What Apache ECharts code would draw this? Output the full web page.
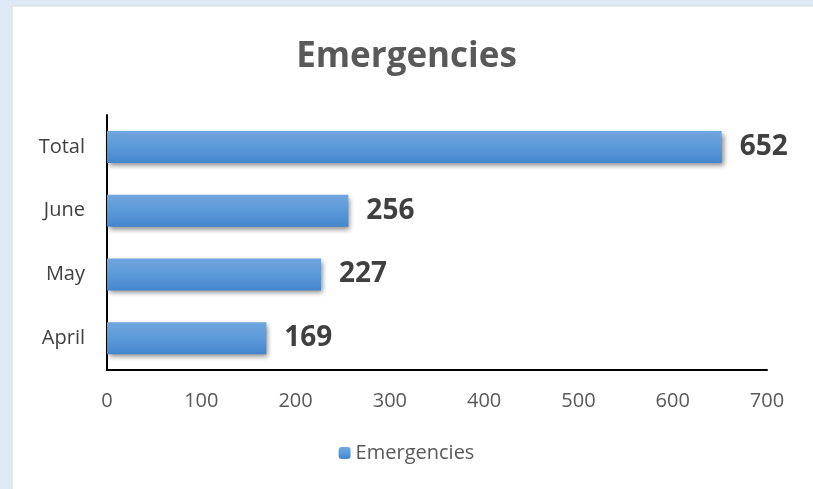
<!DOCTYPE html>
<html>
<head>
<meta charset="utf-8">
<script src="https://cdn.jsdelivr.net/npm/echarts@6/dist/echarts.min.js"></script>
<style>
html,body{margin:0;padding:0;background:#dfe9f5;}
#c{width:813px;height:489px;}
</style>
</head>
<body>
<div id="c"></div>
<script>
const categories = ['April', 'May', 'June', 'Total'];
const values = [169, 227, 256, 652];
const xTicks = [0, 100, 200, 300, 400, 500, 600, 700];
const seriesName = 'Emergencies';
const titleText = 'Emergencies';

const chart = echarts.init(document.getElementById('c'));
const font = 'Open Sans';
chart.setOption({
  backgroundColor: '#dfe9f5',
  animation: false,
  graphic: [{
    type: 'rect', z: -10, silent: true,
    shape: {x: 12, y: 6, width: 820, height: 500},
    style: {fill: '#ffffff', stroke: '#d4dbe3', lineWidth: 1}
  }],
  title: {
    text: titleText, left: 'center', top: 35,
    textStyle: {fontFamily: font, fontSize: 35, fontWeight: 'bold', color: '#595959'}
  },
  legend: {
    bottom: 21, left: 'center', itemWidth: 12, itemHeight: 12, itemGap: 5,
    data: [seriesName],
    textStyle: {fontFamily: font, fontSize: 20, color: '#595959'}
  },
  grid: {left: 107, right: 46, top: 115, bottom: 119},
  xAxis: {
    type: 'value', min: xTicks[0], max: xTicks[xTicks.length - 1], interval: 100,
    axisLine: {show: true, lineStyle: {color: '#000', width: 2}},
    axisTick: {show: false}, splitLine: {show: false},
    axisLabel: {fontFamily: font, fontSize: 20, color: '#595959', margin: 21}
  },
  yAxis: {
    type: 'category', data: categories,
    axisLine: {show: true, lineStyle: {color: '#000', width: 2}},
    axisTick: {show: false},
    axisLabel: {fontFamily: font, fontSize: 20, color: '#404040', margin: 22}
  },
  series: [{
    name: seriesName, type: 'bar', data: values, barWidth: 32,
    itemStyle: {
      color: new echarts.graphic.LinearGradient(0, 0, 0, 1, [
        {offset: 0, color: '#71a6de'},
        {offset: 0.5, color: '#5b9ad9'},
        {offset: 1, color: '#4586cc'}
      ]),
      shadowColor: 'rgba(0,0,0,0.45)', shadowBlur: 5, shadowOffsetX: 2, shadowOffsetY: 3
    },
    label: {
      show: true, position: 'right', distance: 18,
      fontFamily: font, fontSize: 28, fontWeight: 'bold', color: '#404040'
    }
  }]
});
</script>
</body>
</html>
